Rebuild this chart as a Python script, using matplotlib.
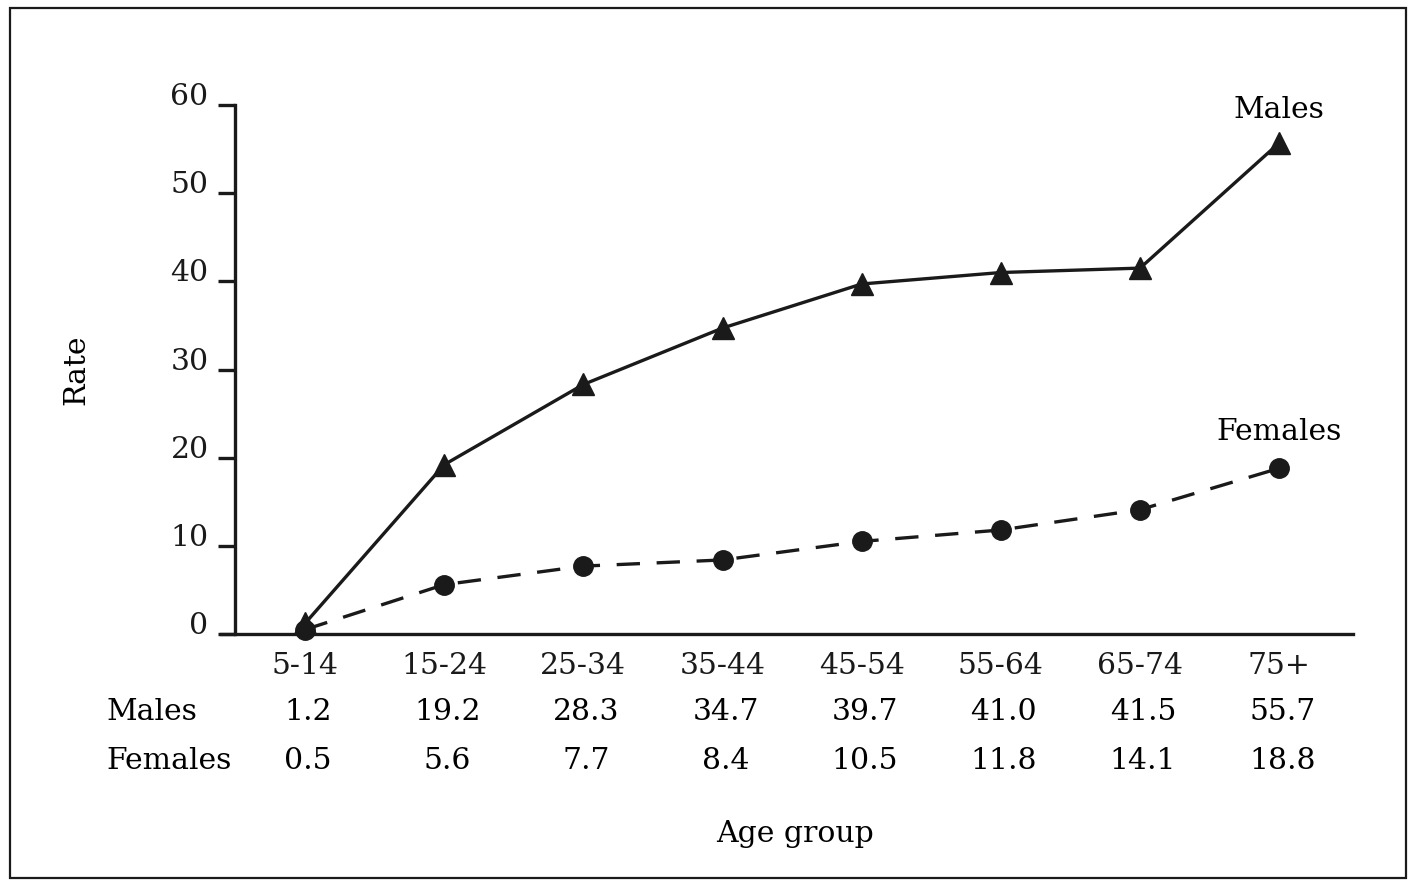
import matplotlib.pyplot as plt
from matplotlib.patches import Rectangle
from matplotlib.transforms import ScaledTranslation

# data
age_groups = ['5-14', '15-24', '25-34', '35-44', '45-54', '55-64', '65-74', '75+']
males = [1.2, 19.2, 28.3, 34.7, 39.7, 41.0, 41.5, 55.7]
females = [0.5, 5.6, 7.7, 8.4, 10.5, 11.8, 14.1, 18.8]
y_ticks = [0, 10, 20, 30, 40, 50, 60]

plt.rcParams['font.family'] = ['DejaVu Serif']
fs = 21.5
ink = '#1a1a1a'

fig = plt.figure(figsize=(14.16, 8.86), dpi=100)
ax = fig.add_axes([235/1416, 1-634/886, (1353-235)/1416, (634-105)/886])

x = list(range(len(age_groups)))
ax.plot(x, males, color=ink, lw=2.4, marker='^', ms=16, clip_on=False, zorder=3)
ax.plot(x, females, color=ink, lw=2.4, ls=(0, (7, 5)), marker='o', ms=14,
        clip_on=False, zorder=4)

ax.set_xlim(-0.503, 7.53)
ax.set_ylim(0, 60)
ax.set_yticks(y_ticks)
ax.set_yticklabels([str(v) for v in y_ticks], fontsize=fs, va='center')
ax.tick_params(axis='y', length=12, width=2.4, direction='out', pad=7, colors=ink)
# nudge y labels up a little, as in the original
for lab in ax.get_yticklabels():
    lab.set_transform(lab.get_transform() + ScaledTranslation(0, 8/100, fig.dpi_scale_trans))
ax.set_xticks(x)
ax.set_xticklabels(age_groups, fontsize=fs)
ax.tick_params(axis='x', length=0, pad=13, colors=ink)
for s in ['top', 'right']:
    ax.spines[s].set_visible(False)
for s in ['left', 'bottom']:
    ax.spines[s].set_linewidth(2.4)
    ax.spines[s].set_color(ink)
ax.spines['bottom'].set_bounds(-0.6, 7.53)

ax.set_ylabel('Rate', fontsize=fs, labelpad=58)

ax.text(7, 59.4, 'Males', fontsize=fs, ha='center', va='center')
ax.text(7, 22.9, 'Females', fontsize=fs, ha='center', va='center')

# table under the axis
row_y = [1 - 712/886, 1 - 761/886]
for label, vals, yy in [('Males', males, row_y[0]), ('Females', females, row_y[1])]:
    fig.text(106/1416, yy, label, fontsize=fs, ha='left', va='center')
    for xi, v in zip(x, vals):
        xf = fig.transFigure.inverted().transform(ax.transData.transform((xi, 0)))[0]
        fig.text(xf + 3/1416, yy, '%.1f' % v, fontsize=fs, ha='center', va='center')

fig.text(795/1416, 1 - 834/886, 'Age group', fontsize=fs, ha='center', va='center')

fig.patches.append(Rectangle((10/1416, 8/886), 1396/1416, 870/886, transform=fig.transFigure,
                             fill=False, lw=1.6, edgecolor=ink))

plt.savefig('out.png', dpi=100)
